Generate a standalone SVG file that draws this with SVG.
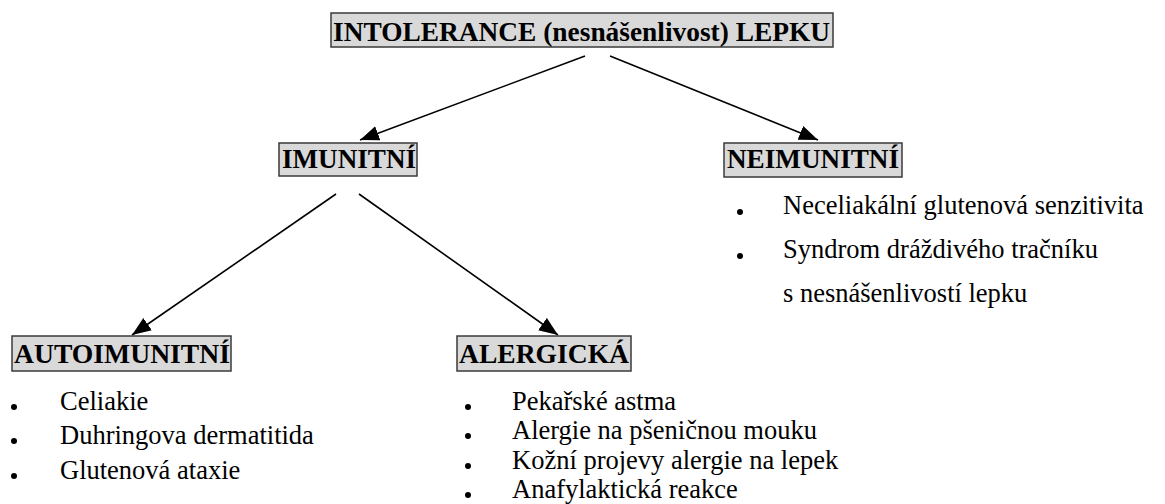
<svg xmlns="http://www.w3.org/2000/svg" width="1165" height="504" viewBox="0 0 1165 504">
<style>
.box{fill:#d9d9d9;stroke:#3a3a3a;stroke-width:1.5}
.hd{font-family:'Liberation Serif','DejaVu Serif','Times New Roman',serif;font-weight:bold;font-size:27px;fill:#000}
.tx{font-family:'Liberation Serif','DejaVu Serif','Times New Roman',serif;font-size:26.5px;fill:#000}
.ln{stroke:#000;stroke-width:1.6;fill:none;marker-end:url(#ah)}
.bl{fill:#000}
</style>
<defs>
<marker id="ah" markerUnits="userSpaceOnUse" markerWidth="20" markerHeight="16" refX="19" refY="7.5" orient="auto" viewBox="0 0 20 15">
<path d="M0,0 L19,7.5 L0,15 z" fill="#000"/>
</marker>
</defs>
<g id="connectors">
<line class="ln" x1="585" y1="56" x2="360" y2="140"/>
<line class="ln" x1="610" y1="56" x2="818" y2="140"/>
<line class="ln" x1="336" y1="194" x2="132" y2="335"/>
<line class="ln" x1="359" y1="194" x2="558" y2="335"/>
</g>
<g id="root">
<rect class="box" x="331" y="13" width="502" height="34"/>
<text class="hd" x="333" y="41" textLength="497" lengthAdjust="spacingAndGlyphs">INTOLERANCE (nesnášenlivost) LEPKU</text>
</g>
<g id="imunitni">
<rect class="box" x="279" y="143" width="138" height="33"/>
<text class="hd" x="282" y="168" textLength="134" lengthAdjust="spacingAndGlyphs">IMUNITNÍ</text>
</g>
<g id="neimunitni">
<rect class="box" x="724" y="143" width="178" height="34"/>
<text class="hd" x="727" y="168" textLength="172" lengthAdjust="spacingAndGlyphs">NEIMUNITNÍ</text>
<circle class="bl" cx="740" cy="212" r="3"/>
<text class="tx" x="783" y="214">Neceliakální glutenová senzitivita</text>
<circle class="bl" cx="740" cy="256" r="3"/>
<text class="tx" x="783" y="258">Syndrom dráždivého tračníku</text>
<text class="tx" x="783" y="302">s nesnášenlivostí lepku</text>
</g>
<g id="autoimunitni">
<rect class="box" x="12" y="336" width="219" height="35"/>
<text class="hd" x="14" y="363" textLength="216" lengthAdjust="spacingAndGlyphs">AUTOIMUNITNÍ</text>
<circle class="bl" cx="14" cy="407" r="3"/>
<text class="tx" x="60" y="410">Celiakie</text>
<circle class="bl" cx="14" cy="441" r="3"/>
<text class="tx" x="60" y="444">Duhringova dermatitida</text>
<circle class="bl" cx="14" cy="476" r="3"/>
<text class="tx" x="60" y="479">Glutenová ataxie</text>
</g>
<g id="alergicka">
<rect class="box" x="457" y="336" width="174" height="35"/>
<text class="hd" x="459" y="363" textLength="170" lengthAdjust="spacingAndGlyphs">ALERGICKÁ</text>
<circle class="bl" cx="468" cy="407" r="3"/>
<text class="tx" x="512" y="410">Pekařské astma</text>
<circle class="bl" cx="468" cy="436" r="3"/>
<text class="tx" x="512" y="439">Alergie na pšeničnou mouku</text>
<circle class="bl" cx="468" cy="466" r="3"/>
<text class="tx" x="512" y="469">Kožní projevy alergie na lepek</text>
<circle class="bl" cx="468" cy="495" r="3"/>
<text class="tx" x="512" y="498">Anafylaktická reakce</text>
</g>
</svg>
